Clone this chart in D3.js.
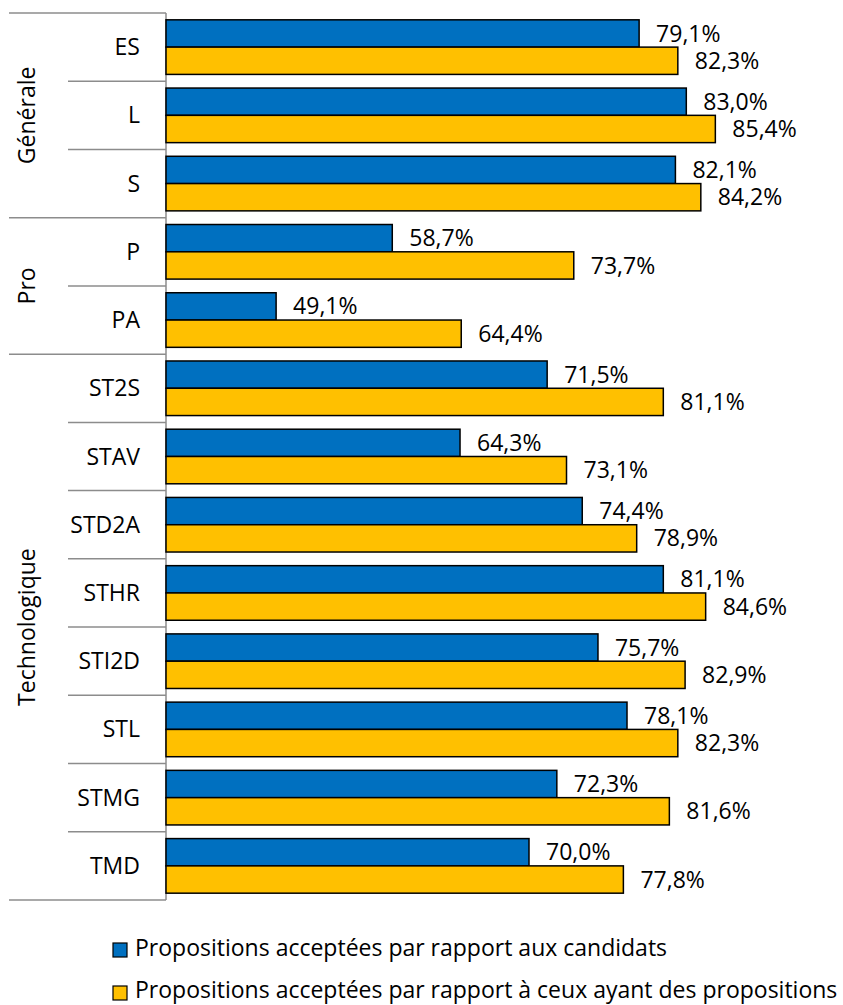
<!DOCTYPE html>
<html>
<head>
<meta charset="utf-8">
<script src="https://cdn.jsdelivr.net/npm/d3@7"></script>
<style>
  body { margin: 0; background: #fff; }
  svg { display: block; }
</style>
</head>
<body>
<script>
'use strict';

// categories (one row each) and the group they belong to
const categories = ["ES", "L", "S", "P", "PA", "ST2S", "STAV", "STD2A", "STHR", "STI2D", "STL", "STMG", "TMD"];
const groups = [
  { name: "Générale", members: ["ES", "L", "S"] },
  { name: "Pro", members: ["P", "PA"] },
  { name: "Technologique", members: ["ST2S", "STAV", "STD2A", "STHR", "STI2D", "STL", "STMG", "TMD"] }
];

// series values in %
const seriesNames = [
  "Propositions acceptées par rapport aux candidats",
  "Propositions acceptées par rapport à ceux ayant des propositions"
];
const acceptedVsCandidates = [79.1, 83.0, 82.1, 58.7, 49.1, 71.5, 64.3, 74.4, 81.1, 75.7, 78.1, 72.3, 70.0];
const acceptedVsWithOffers = [82.3, 85.4, 84.2, 73.7, 64.4, 81.1, 73.1, 78.9, 84.6, 82.9, 82.3, 81.6, 77.8];
const xDomain = [40, 90];

(function() {

  let svgContainer = "";
  const colors = ["#0070C0", "#FFC000"];
  const font = "'Open Sans', 'Noto Sans', sans-serif";
  const fontSize = '23px';

  window.onload = function() {
    svgContainer = d3.select('body')
      .append('svg')
      .attr('width', 843)
      .attr('height', 1005);

    let scales = makeScales();
    drawAxis(scales);
    drawBars(scales);
    drawLegend();
  }

  // category band + series sub band + value scale
  function makeScales() {
    let y = d3.scaleBand()
      .domain(categories)
      .range([13, 900])
      .paddingInner(0.2)
      .paddingOuter(0.1);

    let ySub = d3.scaleBand()
      .domain([0, 1])
      .range([0, y.bandwidth()]);

    let x = d3.scaleLinear()
      .domain(xDomain)
      .range([166, 771]);

    return { x: x, y: y, ySub: ySub };
  }

  // the multi-level category axis on the left
  function drawAxis(s) {
    let step = s.y.step();
    let top = s.y.range()[0];
    let gridColor = "#8c8c8c";

    // row boundaries
    let edge = (i) => top + i * step;
    let groupStarts = [];
    let idx = 0;
    groups.forEach((g) => { groupStarts.push(idx); idx += g.members.length; });
    groupStarts.push(categories.length);

    d3.range(categories.length + 1).forEach((i) => {
      let isGroup = groupStarts.indexOf(i) >= 0;
      svgContainer.append('line')
        .attr('x1', isGroup ? 9 : 68)
        .attr('x2', 166)
        .attr('y1', edge(i))
        .attr('y2', edge(i))
        .attr('stroke', gridColor)
        .attr('stroke-width', 1.5);
    });

    svgContainer.append('line')
      .attr('x1', 166)
      .attr('x2', 166)
      .attr('y1', top)
      .attr('y2', edge(categories.length))
      .attr('stroke', gridColor)
      .attr('stroke-width', 1.5);

    // category names
    svgContainer.selectAll('.cat')
      .data(categories)
      .enter()
      .append('text')
        .attr('class', 'cat')
        .attr('x', 140)
        .attr('y', (d) => s.y(d) + s.y.bandwidth() / 2)
        .attr('dy', '0.35em')
        .attr('text-anchor', 'end')
        .style('font-family', font)
        .style('font-size', fontSize)
        .attr('fill', '#000')
        .text((d) => d);

    // group names, rotated
    groups.forEach((g, i) => {
      let y0 = edge(groupStarts[i]);
      let y1 = edge(groupStarts[i + 1]);
      let cy = (y0 + y1) / 2;
      svgContainer.append('text')
        .attr('transform', 'translate(27,' + cy + ')rotate(-90)')
        .attr('dy', '0.35em')
        .attr('text-anchor', 'middle')
        .style('font-family', font)
        .style('font-size', fontSize)
        .attr('fill', '#000')
        .text(g.name);
    });
  }

  // bars and value labels
  function drawBars(s) {
    let series = [acceptedVsCandidates, acceptedVsWithOffers];
    let fmt = (v) => v.toFixed(1).replace('.', ',') + '%';

    series.forEach((vals, k) => {
      let rows = categories.map((c, i) => ({ cat: c, value: vals[i] }));

      svgContainer.selectAll('.bar' + k)
        .data(rows)
        .enter()
        .append('rect')
          .attr('class', 'bar' + k)
          .attr('x', s.x(xDomain[0]))
          .attr('y', (d) => s.y(d.cat) + s.ySub(k))
          .attr('width', (d) => s.x(d.value) - s.x(xDomain[0]))
          .attr('height', s.ySub.bandwidth())
          .attr('fill', colors[k])
          .attr('stroke', '#000')
          .attr('stroke-width', 1.5);

      svgContainer.selectAll('.lab' + k)
        .data(rows)
        .enter()
        .append('text')
          .attr('class', 'lab' + k)
          .attr('x', (d) => s.x(d.value) + 17)
          .attr('y', (d) => s.y(d.cat) + s.ySub(k) + s.ySub.bandwidth() / 2)
          .attr('dy', '0.35em')
          .style('font-family', font)
          .style('font-size', fontSize)
          .attr('fill', '#000')
          .text((d) => fmt(d.value));
    });
  }

  // legend under the plot, one entry per line
  function drawLegend() {
    let boxTop = [943, 986];
    let baseline = [956, 998];
    seriesNames.forEach((name, k) => {
      svgContainer.append('rect')
        .attr('x', 113)
        .attr('y', boxTop[k])
        .attr('width', 14)
        .attr('height', 14)
        .attr('fill', colors[k])
        .attr('stroke', '#000')
        .attr('stroke-width', 1.2);

      svgContainer.append('text')
        .attr('x', 135)
        .attr('y', baseline[k])
        .style('font-family', font)
        .style('font-size', fontSize)
        .attr('fill', '#000')
        .text(name);
    });
  }

})();
</script>
</body>
</html>
